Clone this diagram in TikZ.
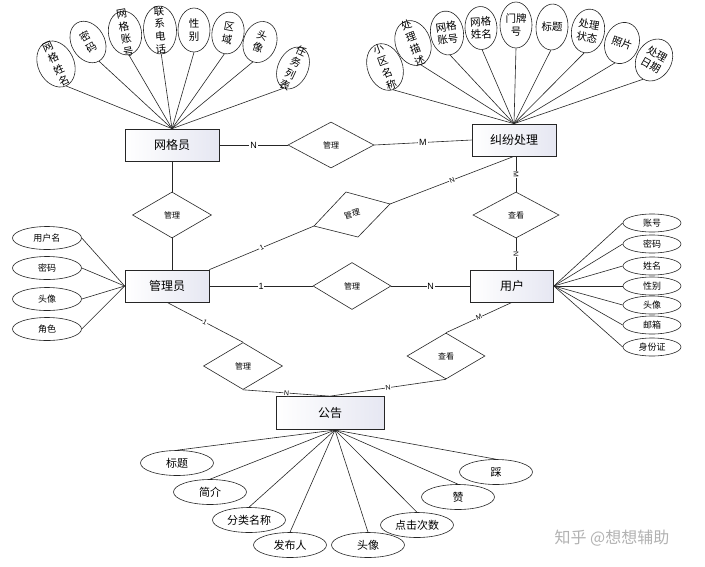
\documentclass[tikz,border=0pt]{standalone}
\usepackage{fontspec}
\setmainfont{Noto Sans CJK SC}
\newfontfamily\lat{Liberation Sans}
\usetikzlibrary{shapes.geometric}
\begin{document}
\begin{tikzpicture}[x=1pt,y=-1pt,
  ln/.style={draw=black!85, line width=0.6pt},
  ent/.style={draw=black!85, line width=0.7pt, rectangle, minimum height=32, inner sep=0,
     left color=white, right color={rgb,255:red,230;green,231;blue,242},
     font=\fontsize{12}{14}\selectfont},
  rel/.style={draw=black!85, line width=0.6pt, diamond, inner sep=0, fill=white,
     font=\fontsize{8}{9}\selectfont},
  card/.style={fill=white, inner sep=0.8pt, font=\lat\fontsize{9}{10}\selectfont},
  cards/.style={fill=white, inner sep=0.6pt, font=\lat\fontsize{7}{8}\selectfont},
  vell/.style={draw=black!85, line width=0.6pt, ellipse, inner sep=0, fill=white},
  vtxt/.style={inner sep=0, align=center, font=\fontsize{10.5}{12.8}\selectfont},
  hell/.style={draw=black!85, line width=0.6pt, ellipse, inner sep=0, fill=white},
]
\useasboundingbox (0,0) rectangle (705,566);
\fill[white] (0,0) rectangle (705,566);

% entities
\node[ent, minimum width=94] (wgy) at (172,145) {网格员};
\node[ent, minimum width=84] (jf) at (514,140) {纠纷处理};
\node[ent, minimum width=84] (gly) at (167,286) {管理员};
\node[ent, minimum width=83] (yh) at (512,286) {用户};
\node[ent, minimum width=108, minimum height=33] (gg) at (330,413) {公告};

% relationships
\node[rel, minimum width=86, minimum height=46] (r1) at (331,145) {管理};
\node[rel, minimum width=79, minimum height=46] (r2) at (172,215) {管理};
\node[rel, minimum width=86, minimum height=46] (r3) at (516,215) {查看};
\node[rel, minimum width=78, minimum height=47] (r4) at (352,286) {管理};
\node[rel, minimum width=79, minimum height=47] (r5) at (243,366) {管理};
\node[rel, minimum width=78, minimum height=46] (r6) at (446,356) {查看};
\coordinate (sl) at (314,226);
\coordinate (st) at (346,192);
\coordinate (sr) at (390,204);
\coordinate (sb) at (358,237);
\draw[ln, fill=white] (sl)--(st)--(sr)--(sb)--cycle;
\node[rotate=15, inner sep=0, font=\fontsize{8}{9}\selectfont] (r7) at (352,214) {管理};

% relationship lines
\draw[ln] (wgy.east) -- node[card]{N} (r1.west);
\draw[ln] (r1.east) -- node[card]{M} (jf.west);
\draw[ln] (wgy.south) -- (r2.north);
\draw[ln] (r2.south) -- (r2.south |- gly.north);
\draw[ln] (gly.east) -- node[card]{1} (r4.west);
\draw[ln] (r4.east) -- node[card]{N} (yh.west);
\draw[ln] (gly.north east) -- node[cards, sloped]{1} (sl);
\draw[ln] (sr) -- node[cards, sloped]{N} (jf.south);
\draw[ln] (r3.north |- jf.south) -- node[cards, rotate=-90]{M} (r3.north);
\draw[ln] (r3.south) -- node[cards, rotate=-90]{N} (r3.south |- yh.north);
\draw[ln] (gly.south) -- node[cards, sloped]{1} (r5.north);
\draw[ln] (r5.south) -- node[cards, sloped]{N} (gg.north);
\draw[ln] (yh.south) -- node[cards, sloped]{M} (r6.north);
\draw[ln] (r6.south) -- node[cards, sloped]{N} (gg.north);

% 网格员 attributes
\foreach \nm/\px/\py/\r/\w/\h/\t in {
  a1/56/64/25/36/48/{网\\格\\姓\\名},
  a2/88/42/30/33/44/{密\\码},
  a3/125/33/10/33/44/{网\\格\\账\\号},
  a4/160/30/3/33/48/{联\\系\\电\\话},
  a5/194/30/0/32/44/{性\\别},
  a6/228/33/-10/32/42/{区\\域},
  a7/260/42/-20/33/42/{头\\像},
  a8/293/68/-25/30/44/{任\\务\\列\\表}} {
  \node[vell, rotate=\r, minimum width=\w, minimum height=\h] (\nm) at (\px,\py) {};
  \node[vtxt, rotate=\r] at (\nm.center) {\t};
  \draw[ln] (wgy.north) -- (\nm.south);
}

% 纠纷处理 attributes
\foreach \nm/\px/\py/\r/\w/\h/\t in {
  b1/385/67/20/35/48/{小\\区\\名\\称},
  b2/413/43/20/35/46/{处\\理\\描\\述},
  b3/447/33/8/33/44/{网格\\账号},
  b4/481/28/3/32/43/{网格\\姓名},
  b5/516/25/0/32/46/{门牌\\号},
  b6/552/27/-3/32/46/{标题},
  b7/588/31/-10/33/44/{处理\\状态},
  b8/622/43/-20/34/42/{照片},
  b9/654/60/-30/35/44/{处理\\日期}} {
  \node[vell, rotate=\r, minimum width=\w, minimum height=\h] (\nm) at (\px,\py) {};
  \node[vtxt, rotate=\r] at (\nm.center) {\t};
  \draw[ln] (jf.north) -- (\nm.south);
}

% 用户 attributes
\foreach \nm/\py/\t in {c1/223/账号, c2/244/密码, c3/266/姓名, c4/286/性别,
  c5/305/头像, c6/325/邮箱, c7/347/身份证} {
  \node[hell, minimum width=58, minimum height=18, font=\fontsize{9}{10}\selectfont] (\nm) at (652,\py) {\t};
  \draw[ln] (yh.east) -- (\nm.west);
}

% 管理员 attributes
\foreach \nm/\py/\t in {d1/238/用户名, d2/268/密码, d3/299/头像, d4/329/角色} {
  \node[hell, minimum width=69, minimum height=23, font=\fontsize{9}{10}\selectfont] (\nm) at (47,\py) {\t};
  \draw[ln] (gly.west) -- (\nm.east);
}

% 公告 attributes
\coordinate (gghub) at (335,430);
\foreach \nm/\px/\py/\t in {e1/177/463/标题, e2/210/492/简介, e3/249/520/分类名称,
  e4/290/545/发布人, e5/368/545/头像, e6/417/525/点击次数, e7/458/497/赞, e8/496/472/踩} {
  \node[hell, minimum width=73, minimum height=25, font=\fontsize{11}{12}\selectfont] (\nm) at (\px,\py) {\t};
  \draw[ln] (gghub) -- (\nm.north);
}

% watermark
\node[text=black!30, inner sep=0, font=\fontsize{16}{18}\selectfont] (wm) at (612,538) {知乎 @想想辅助};
\end{tikzpicture}
\end{document}
